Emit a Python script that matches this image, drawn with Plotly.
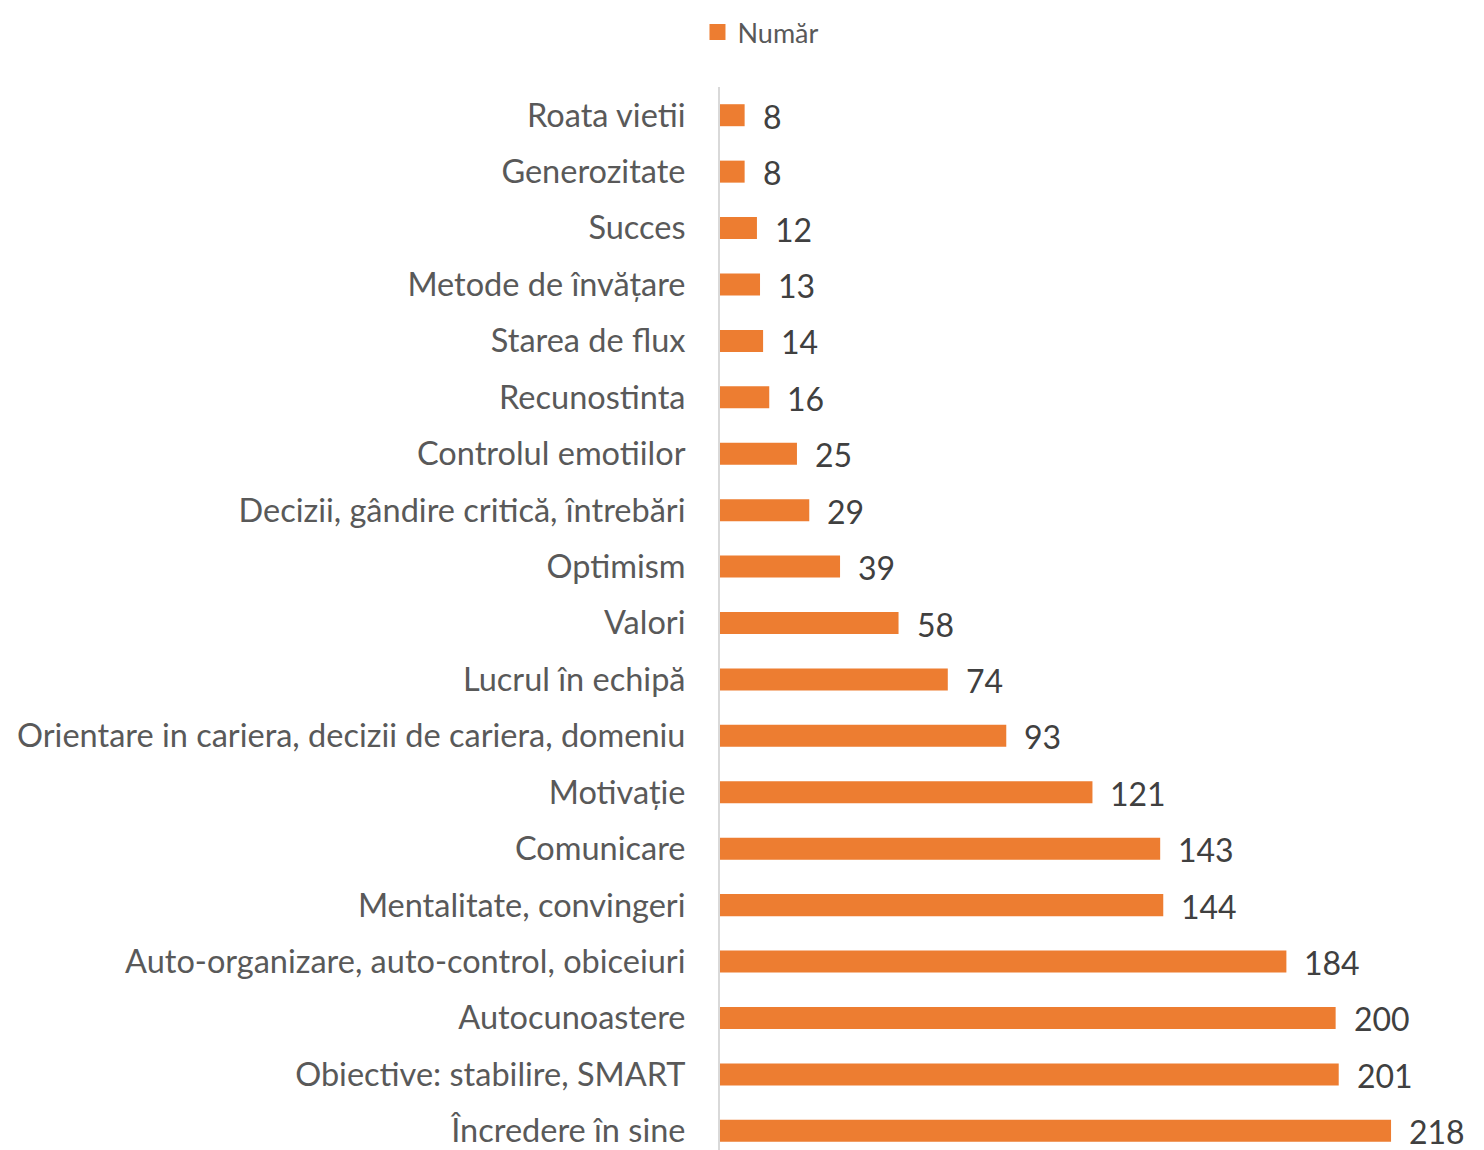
import plotly.graph_objects as go

categories = [
    "Roata vietii", "Generozitate", "Succes", "Metode de învățare", "Starea de flux",
    "Recunostinta", "Controlul emotiilor", "Decizii, gândire critică, întrebări",
    "Optimism", "Valori", "Lucrul în echipă",
    "Orientare in cariera, decizii de cariera, domeniu", "Motivație", "Comunicare",
    "Mentalitate, convingeri", "Auto-organizare, auto-control, obiceiuri",
    "Autocunoastere", "Obiective: stabilire, SMART", "Încredere în sine",
]
values = [8, 8, 12, 13, 14, 16, 25, 29, 39, 58, 74, 93, 121, 143, 144, 184, 200, 201, 218]
series_name = "Număr"

# bottom-to-top order for plotly
cats_r = categories[::-1]
vals_r = values[::-1]

ORANGE = "#ED7D31"
FONT = "Lato, 'Open Sans', sans-serif"

fig = go.Figure()
fig.add_trace(go.Bar(
    y=cats_r, x=vals_r, orientation="h", name=series_name, showlegend=False,
    marker=dict(color=ORANGE, line=dict(width=0)), width=0.39,
))
# legend entry with a larger square swatch
fig.add_trace(go.Scatter(
    x=[None], y=[None], mode="markers", name=series_name, showlegend=True,
    marker=dict(symbol="square", size=17, color=ORANGE),
))

for c, v in zip(cats_r, vals_r):
    fig.add_annotation(x=v, y=c, text=str(v), showarrow=False, xanchor="left",
                       xshift=16, yshift=-1, font=dict(size=32, color="#404040", family=FONT))

fig.update_layout(
    width=1484, height=1150,
    margin=dict(l=712, r=28, t=79, b=8, autoexpand=False),
    plot_bgcolor="white", paper_bgcolor="white",
    showlegend=True,
    legend=dict(orientation="h", x=0.5074, y=1.0, xanchor="center", yanchor="top",
                xref="container", yref="container", borderwidth=0,
                font=dict(size=27, color="#595959", family=FONT)),
    font=dict(family=FONT),
)
fig.update_xaxes(range=[0, 241.7], visible=False, showgrid=False)
fig.update_yaxes(type="category", range=[-0.34, 18.5], showgrid=False,
                 showline=True, linecolor="#d9d9d9", linewidth=2,
                 ticks="", ticklabelstandoff=26,
                 tickfont=dict(size=32.5, color="#595959", family=FONT))

fig.write_html("out.html")
